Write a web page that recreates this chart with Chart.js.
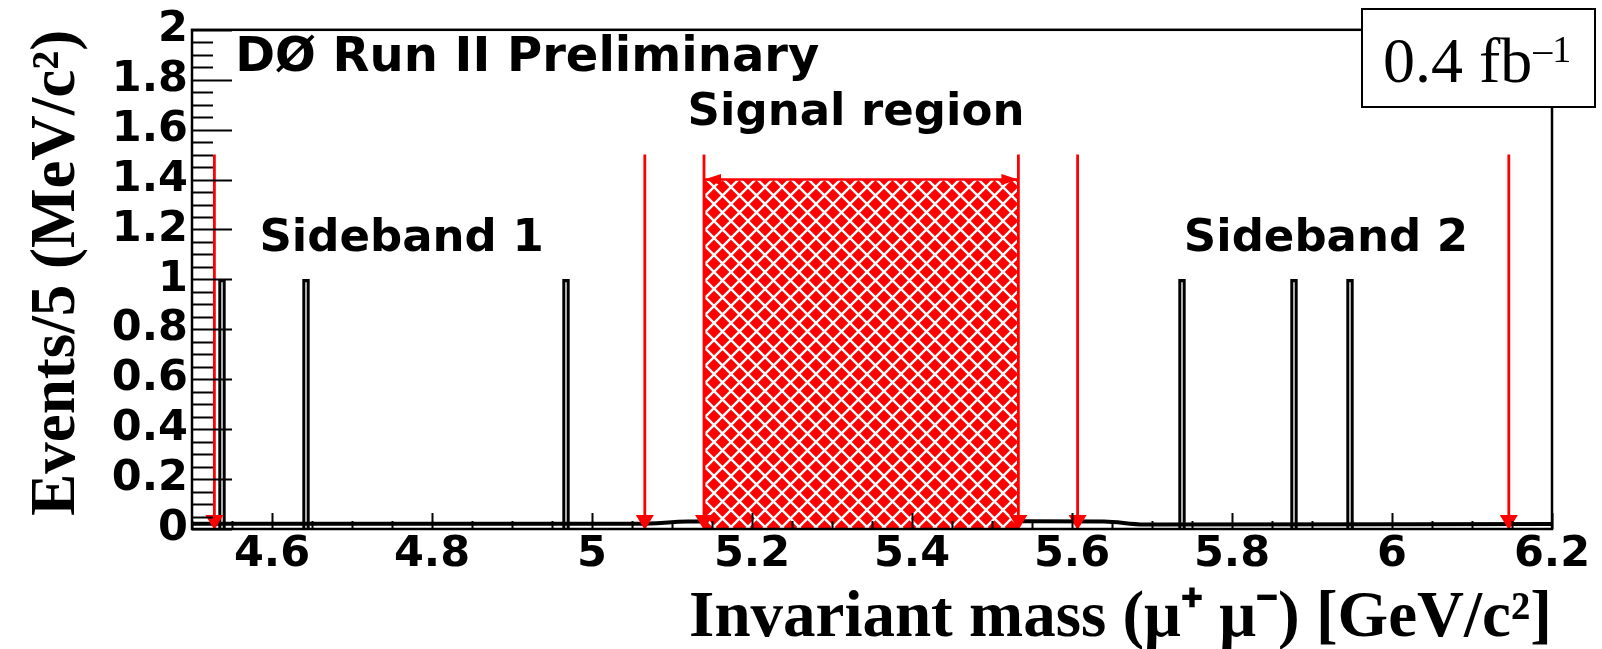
<!DOCTYPE html>
<html>
<head>
<meta charset="utf-8">
<title>Invariant mass (mu+ mu-)</title>
<script src="https://cdn.jsdelivr.net/npm/chart.js@4.4.1/dist/chart.umd.min.js"></script>
<style>
  body { margin: 0; background: #fff; }
  #wrap { width: 1602px; height: 649px; }
</style>
</head>
<body>
<div id="wrap"><canvas id="massChart" width="1602" height="649"></canvas></div>
<script>
// candidate events, one per 5 MeV bin (bin centres in GeV/c^2)
const eventMass = [4.5375, 4.6425, 4.9675, 5.7375, 5.8775, 5.9475];
const eventCounts = [1, 1, 1, 1, 1, 1];

// smooth background shape near zero
const bkgMass = [4.5, 5.06, 5.12, 5.3, 5.5, 5.64, 5.69, 6.2];
const bkgLevel = [0.021, 0.021, 0.03, 0.031, 0.031, 0.03, 0.018, 0.02];

// region boundaries (sideband 1 | signal | sideband 2)
const cutMass = [4.528, 5.066, 5.14, 5.533, 5.607, 6.146];
const cutHeight = 1.5;
const signalRange = [5.14, 5.533];
const signalHeight = 1.4;

const xTickValues = [4.6, 4.8, 5, 5.2, 5.4, 5.6, 5.8, 6, 6.2];
const yTickValues = [0, 0.2, 0.4, 0.6, 0.8, 1, 1.2, 1.4, 1.6, 1.8, 2];

const RED = '#ff0000';
const SANS = 'DejaVu Sans';
const SERIF = 'Liberation Serif';

function crossHatch() {
  const n = 17;
  const c = document.createElement('canvas');
  c.width = n; c.height = n;
  const g = c.getContext('2d');
  g.fillStyle = RED;
  g.fillRect(0, 0, n, n);
  g.strokeStyle = '#ffffff';
  g.lineWidth = 2.4;
  g.beginPath();
  g.moveTo(-2, -2); g.lineTo(n + 2, n + 2);
  g.moveTo(n + 2, -2); g.lineTo(-2, n + 2);
  g.stroke();
  return g.createPattern(c, 'repeat');
}

function fmt(v) {
  return String(+v.toFixed(1));
}

// frame, inward ticks, cut arrows and text
const decorations = {
  id: 'decorations',
  afterDatasetsDraw(chart) {
    const ctx = chart.ctx;
    const xs = chart.scales.x, ys = chart.scales.y;
    const a = chart.chartArea;
    ctx.save();

    // cut arrows
    ctx.strokeStyle = RED;
    ctx.fillStyle = RED;
    ctx.lineWidth = 2.8;
    const y0 = ys.getPixelForValue(0);
    cutMass.forEach(m => {
      const px = xs.getPixelForValue(m);
      ctx.beginPath();
      ctx.moveTo(px, ys.getPixelForValue(cutHeight));
      ctx.lineTo(px, y0 - 8);
      ctx.stroke();
      ctx.beginPath();
      ctx.moveTo(px, y0 + 1);
      ctx.lineTo(px - 9, y0 - 14);
      ctx.lineTo(px + 9, y0 - 14);
      ctx.closePath();
      ctx.fill();
    });

    // signal region double arrow
    const sy = ys.getPixelForValue(signalHeight);
    const s1 = xs.getPixelForValue(signalRange[0]);
    const s2 = xs.getPixelForValue(signalRange[1]);
    ctx.beginPath();
    ctx.moveTo(s1, sy); ctx.lineTo(s1 + 17, sy - 5.5); ctx.lineTo(s1 + 17, sy + 5.5);
    ctx.closePath();
    ctx.moveTo(s2, sy); ctx.lineTo(s2 - 17, sy - 5.5); ctx.lineTo(s2 - 17, sy + 5.5);
    ctx.closePath();
    ctx.fill();

    // ticks
    ctx.strokeStyle = '#000';
    ctx.lineWidth = 2;
    ctx.beginPath();
    for (let i = 0; i <= 40; i++) {
      const v = i * 0.05;
      const py = Math.round(ys.getPixelForValue(v)) + 0.5;
      const len = i % 4 === 0 ? 40 : 21;
      ctx.moveTo(a.left, py);
      ctx.lineTo(a.left + len, py);
    }
    for (let i = 0; i <= 34; i++) {
      const v = 4.5 + i * 0.05;
      const px = Math.round(xs.getPixelForValue(v)) + 0.5;
      const len = Math.abs((v * 5) - Math.round(v * 5)) < 1e-6 ? 16 : 8;
      ctx.moveTo(px, a.bottom);
      ctx.lineTo(px, a.bottom - len);
    }
    ctx.stroke();

    // frame
    ctx.lineWidth = 2.5;
    ctx.strokeRect(a.left, a.top, a.right - a.left, a.bottom - a.top);

    // labels
    ctx.fillStyle = '#000';
    ctx.textBaseline = 'alphabetic';
    ctx.textAlign = 'left';
    ctx.font = 'bold 48px "' + SANS + '"';
    ctx.fillText('DØ Run II Preliminary', xs.getPixelForValue(4.554), 71);

    ctx.textAlign = 'center';
    ctx.font = 'bold 45px "' + SANS + '"';
    ctx.fillText('Sideband 1', xs.getPixelForValue(4.762), ys.getPixelForValue(1.156) + 11);
    ctx.fillText('Signal region', xs.getPixelForValue(5.33), ys.getPixelForValue(1.66) + 10);
    ctx.fillText('Sideband 2', xs.getPixelForValue(5.9175), ys.getPixelForValue(1.156) + 11);

    // luminosity box
    const bx = 1362, by = 9, bw = 233, bh = 98;
    ctx.fillStyle = '#fff';
    ctx.fillRect(bx, by, bw, bh);
    ctx.strokeStyle = '#000';
    ctx.lineWidth = 2;
    ctx.strokeRect(bx, by, bw, bh);
    ctx.fillStyle = '#000';
    ctx.textAlign = 'left';
    ctx.font = '64px "' + SERIF + '"';
    const base = '0.4 fb';
    ctx.fillText(base, 1383, 82);
    const w = ctx.measureText(base).width;
    ctx.font = '38px "' + SERIF + '"';
    ctx.fillText('\u20131', 1383 + w + 1, 62);

    ctx.restore();
  }
};

const ctx = document.getElementById('massChart').getContext('2d');

const massChart = new Chart(ctx, {
  type: 'bar',
  data: {
    datasets: [
      {
        type: 'line',
        label: 'Signal region',
        data: signalRange.map(m => ({ x: m, y: signalHeight })),
        borderColor: RED,
        borderWidth: 2.5,
        backgroundColor: crossHatch(),
        fill: 'origin',
        pointRadius: 0,
        order: 0
      },
      {
        type: 'bar',
        label: 'Events',
        data: eventMass.map((m, i) => ({ x: m, y: eventCounts[i] })),
        backgroundColor: 'rgba(0,0,0,0)',
        borderColor: '#000',
        borderWidth: { top: 2.5, left: 2.5, right: 2.5, bottom: 0 },
        borderSkipped: 'start',
        barThickness: 7,
        grouped: false,
        order: 1
      },
      {
        type: 'line',
        label: 'Background',
        data: bkgMass.map((m, i) => ({ x: m, y: bkgLevel[i] })),
        borderColor: '#000',
        borderWidth: 4,
        pointRadius: 0,
        cubicInterpolationMode: 'monotone',
        fill: false,
        order: 2
      }
    ]
  },
  options: {
    responsive: false,
    animation: false,
    devicePixelRatio: 1,
    layout: { padding: { top: 29, right: 50, left: 0, bottom: 0 } },
    plugins: {
      legend: { display: false },
      tooltip: { enabled: false }
    },
    scales: {
      x: {
        type: 'linear',
        min: 4.5,
        max: 6.2,
        offset: false,
        grid: { display: false, drawTicks: false },
        border: { display: false },
        afterBuildTicks: s => { s.ticks = xTickValues.map(v => ({ value: v })); },
        afterFit: s => { s.height = 120; },
        ticks: {
          autoSkip: false,
          maxRotation: 0,
          padding: 0,
          color: '#000',
          font: { family: SANS, weight: 'bold', size: 43 },
          callback: v => fmt(v)
        },
        title: {
          display: true,
          text: 'Invariant mass (\u03bc\u207a \u03bc\u207b) [GeV/c\u00b2]',
          align: 'end',
          color: '#000',
          font: { family: SERIF, weight: 'bold', size: 65 },
          padding: { top: 0, bottom: -9 }
        }
      },
      y: {
        min: 0,
        max: 2,
        grid: { display: false, drawTicks: false },
        border: { display: false },
        afterBuildTicks: s => { s.ticks = yTickValues.map(v => ({ value: v })); },
        afterFit: s => { s.width = 192; },
        ticks: {
          autoSkip: false,
          padding: 4,
          color: '#000',
          font: { family: SANS, weight: 'bold', size: 43 },
          callback: v => fmt(v)
        },
        title: {
          display: true,
          text: 'Events/5 (MeV/c\u00b2)',
          align: 'end',
          color: '#000',
          font: { family: SERIF, weight: 'bold', size: 63 },
          padding: { top: 20, bottom: 0 }
        }
      }
    }
  },
  plugins: [decorations]
});
</script>
</body>
</html>
